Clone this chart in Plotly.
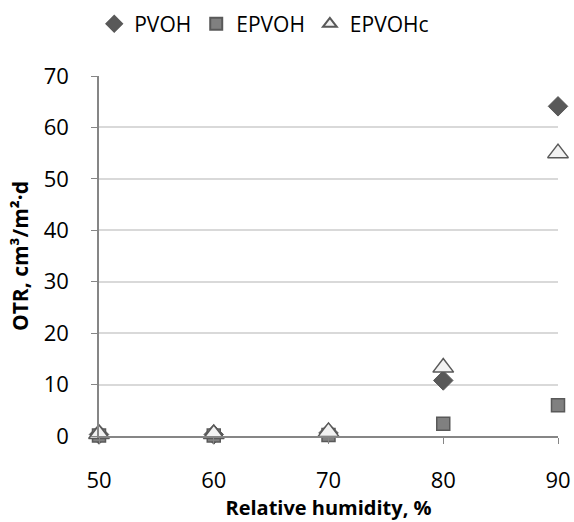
import plotly.graph_objects as go

rh = [50, 60, 70, 80, 90]
pvoh = [0.3, 0.3, 0.6, 10.8, 64.1]
epvoh = [0.1, 0.1, 0.2, 2.4, 6.0]
epvohc = [0.4, 0.4, 0.8, 13.3, 55.0]

FONT = "Open Sans"
fig = go.Figure()
fig.add_trace(go.Scatter(x=rh, y=pvoh, mode="markers", name="PVOH",
                         marker=dict(symbol="diamond", size=15, color="#595959",
                                     line=dict(color="#595959", width=1)),
                         cliponaxis=False))
fig.add_trace(go.Scatter(x=rh, y=epvoh, mode="markers", name="EPVOH",
                         marker=dict(symbol="square", size=13, color="#808080",
                                     line=dict(color="#595959", width=1.5)),
                         cliponaxis=False))
fig.add_trace(go.Scatter(x=rh, y=epvohc, mode="markers", name="EPVOHc",
                         marker=dict(symbol="triangle-up", size=18, color="#f2f2f2",
                                     line=dict(color="#595959", width=1.5)),
                         cliponaxis=False))

fig.update_layout(
    width=574, height=522,
    margin=dict(l=99, r=16, t=76, b=86, autoexpand=False),
    paper_bgcolor="white", plot_bgcolor="white",
    font=dict(family=FONT, size=23, color="#000000"),
    showlegend=True,
    legend=dict(orientation="h", x=0.36, xanchor="center", y=1.144, yref="paper",
                yanchor="middle", font=dict(size=21), itemsizing="constant",
                itemwidth=30, tracegroupgap=0),
    xaxis=dict(range=[50, 90], dtick=10, tick0=50, showgrid=False,
               showline=True, linecolor="#868686", linewidth=1.5,
               ticks="outside", ticklen=6, tickcolor="#868686",
               ticklabelstandoff=18, automargin=False,
               zeroline=False, tickfont=dict(size=22),
               title=dict(text="<b>Relative humidity, %</b>", font=dict(size=20), standoff=6)),
    yaxis=dict(range=[0, 70], dtick=10, showgrid=True, gridcolor="#d9d9d9", gridwidth=1.5,
               showline=True, linecolor="#868686", linewidth=1.5,
               ticks="outside", ticklen=6, tickcolor="#868686",
               ticklabelstandoff=18, automargin=False,
               zeroline=False, tickfont=dict(size=22),
               title=dict(text="<b>OTR, cm³/m²·d</b>", font=dict(size=21), standoff=9)),
)
fig.write_html("out.html", config={"displayModeBar": False},
               post_script="document.body.style.margin='0';")
